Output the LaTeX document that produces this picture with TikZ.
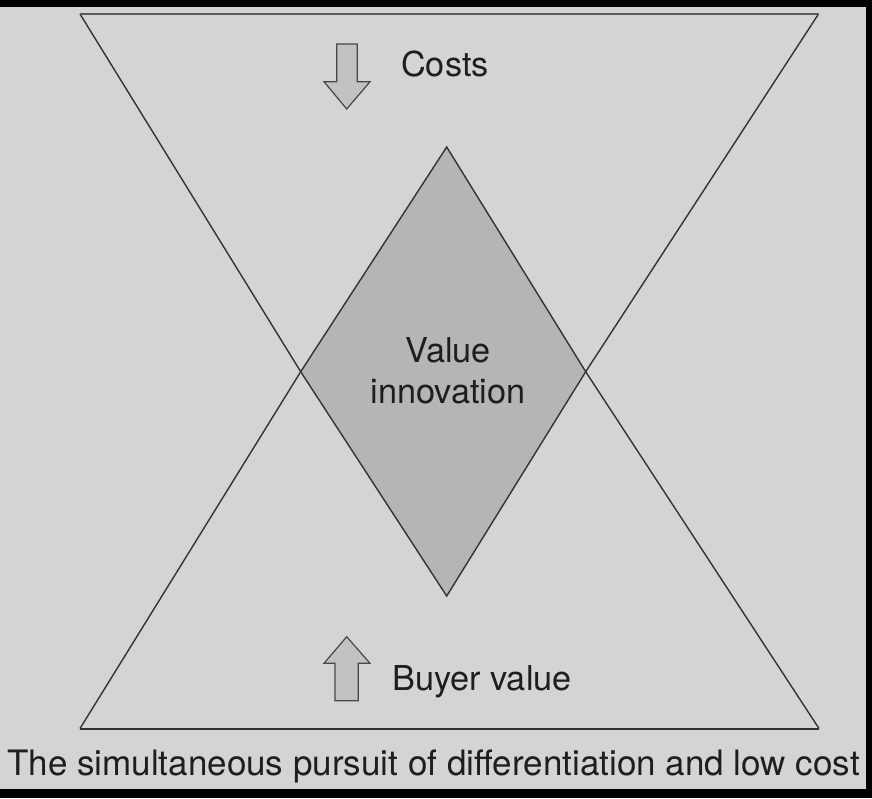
\documentclass[tikz,border=0pt]{standalone}
\usepackage{fontspec}
\setmainfont{TeX Gyre Heros}
\definecolor{bg}{HTML}{D4D4D4}
\definecolor{dfill}{HTML}{B5B5B5}
\definecolor{afill}{HTML}{C2C2C2}
\definecolor{lin}{HTML}{333333}
\definecolor{txt}{HTML}{1E1E1E}
\tikzset{
  edge/.style={draw=lin, line width=1.4pt},
  topedge/.style={draw=lin!80, line width=2.6pt},
  botedge/.style={draw=lin, line width=2pt},
  arrowshape/.style={draw=lin!90, fill=afill, line width=1.2pt, line join=miter},
  lbl/.style={text=txt, inner sep=0pt, font=\fontsize{34.3}{40}\selectfont}
}
\begin{document}
\begin{tikzpicture}[x=1pt,y=-1pt]
\fill[black] (0,0) rectangle (872,798);
\fill[bg] (0,7) rectangle (866,789);
\useasboundingbox (0,0) rectangle (872,798);
\coordinate (TL) at (80,14);
\coordinate (TR) at (818.5,14);
\coordinate (BL) at (80,728.5);
\coordinate (BR) at (819,728.5);
\coordinate (L) at (300.7,371.7);
\coordinate (R) at (585.7,371.7);
\coordinate (T) at (446.7,147);
\coordinate (B) at (446.7,596);
% diamond
\fill[dfill] (T) -- (R) -- (B) -- (L) -- cycle;
% triangles
\draw[edge] (TL) -- (L) -- (B) -- (R) -- (TR);
\draw[edge] (BL) -- (L) -- (T) -- (R) -- (BR);
\draw[topedge] (TL) -- (TR);
\draw[botedge] (BL) -- (BR);
% arrows
\draw[arrowshape] (336.7,44) -- (357.3,44) -- (357.3,81.7) -- (370,81.7) -- (346.7,109) -- (324,81.7) -- (336.7,81.7) -- cycle;
\draw[arrowshape] (346.7,636.7) -- (370,663.3) -- (358.3,663.3) -- (358.3,700.7) -- (335,700.7) -- (335,663.3) -- (324,663.3) -- cycle;
% labels
\node[lbl, anchor=base west] (costs) at (401,76) {Costs};
\node[lbl, anchor=base west] (buyer) at (392,690) {Buyer value};
\node[lbl, anchor=base] (value) at (448,362.5) {Value};
\node[lbl, anchor=base] (innov) at (448,403) {innovation};
\node[lbl, anchor=base, font=\fontsize{35}{40}\selectfont] (caption) at (433.5,775) {The simultaneous pursuit of differentiation and low cost};
\end{tikzpicture}
\end{document}
